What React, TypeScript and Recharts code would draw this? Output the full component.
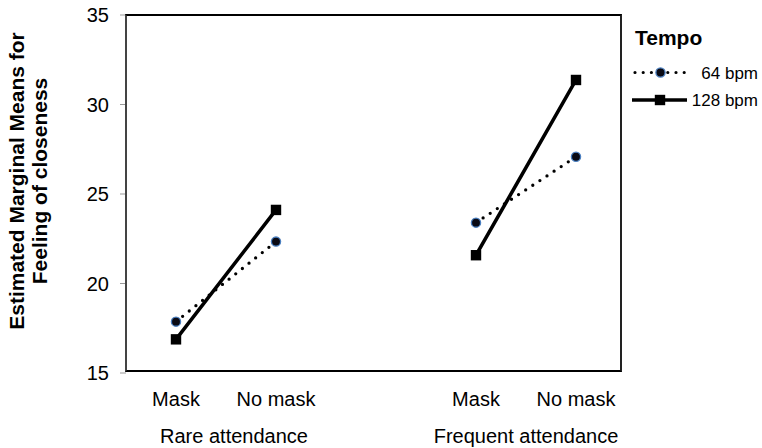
import React from 'react';
import { LineChart, Line, XAxis, YAxis, Label } from 'recharts';

const categories = ['Mask', 'No mask', '', 'Mask', 'No mask'];
const groupLabels = ['Rare attendance', 'Frequent attendance'];
const bpm64 = [17.87, 22.34, null, 23.4, 27.08];
const bpm128 = [16.88, 24.11, null, 21.58, 31.37];
const yTicks = [15, 20, 25, 30, 35];
const seriesNames = ['64 bpm', '128 bpm'];
const legendTitle = 'Tempo';
const yTitleLines = ['Estimated Marginal Means for', 'Feeling of closeness'];

const data = categories.map((c, i) => ({ cat: c, s64: bpm64[i], s128: bpm128[i] }));

const FONT = '"Liberation Sans", Arial, Helvetica, sans-serif';
const W = 762;
const H = 448;
const M = { top: 15, right: 139, bottom: 0, left: 0 };
const Y_AXIS_W = 126;
const X_AXIS_H = 75;

const XTick = (props: any) => {
  const { x, y, payload, index } = props;
  const i = index ?? payload?.index;
  const group = i === 0 ? groupLabels[0] : i === 3 ? groupLabels[1] : null;
  const groupDx = i === 0 ? 58 : 50;
  return (
    <g>
      {payload && payload.value ? (
        <text x={x} y={y + 33} textAnchor="middle" fontSize={20} fontFamily={FONT} fill="#000">
          {payload.value}
        </text>
      ) : null}
      {group ? (
        <text x={x + groupDx} y={y + 70} textAnchor="middle" fontSize={20} fontFamily={FONT} fill="#000">
          {group}
        </text>
      ) : null}
    </g>
  );
};

const CircleDot = (props: any) => {
  const { cx, cy, value } = props;
  if (value == null || cx == null || cy == null) return <g />;
  return <circle cx={cx} cy={cy} r={4.6} fill="#0a0a14" stroke="#4a7fc0" strokeWidth={1.3} />;
};

const SquareDot = (props: any) => {
  const { cx, cy, value } = props;
  if (value == null || cx == null || cy == null) return <g />;
  return <rect x={cx - 5.2} y={cy - 5.2} width={10.4} height={10.4} fill="#000" />;
};

const YTitle = (props: any) => {
  const vb = props.viewBox || { x: 0, y: 15, width: 126, height: 358 };
  const cy = vb.y + vb.height / 2 - 13;
  const x1 = 23.5;
  const x2 = 46.5;
  return (
    <g fontFamily={FONT} fontWeight="bold" fontSize={21} fill="#000">
      <text x={x1} y={cy} transform={`rotate(-90 ${x1} ${cy})`} textAnchor="middle">
        {yTitleLines[0]}
      </text>
      <text x={x2} y={cy} transform={`rotate(-90 ${x2} ${cy})`} textAnchor="middle">
        {yTitleLines[1]}
      </text>
    </g>
  );
};

const LegendBox = () => (
  <svg width={142} height={120} style={{ position: 'absolute', left: 620, top: 0, display: 'block' }}>
    <text x={15} y={45} fontSize={21} fontWeight="bold" fontFamily={FONT} fill="#000">{legendTitle}</text>
    <line x1={15} y1={72.5} x2={68} y2={72.5} stroke="#000" strokeWidth={3.2} strokeDasharray="0 8.2" strokeLinecap="round" />
    <circle cx={40.5} cy={72.5} r={4.6} fill="#0a0a14" stroke="#4a7fc0" strokeWidth={1.3} />
    <text x={138} y={78.5} textAnchor="end" fontSize={17} fontFamily={FONT} fill="#000">{seriesNames[0]}</text>
    <line x1={12} y1={100} x2={67} y2={100} stroke="#000" strokeWidth={3.5} />
    <rect x={34.8} y={94.8} width={10.4} height={10.4} fill="#000" />
    <text x={138} y={106} textAnchor="end" fontSize={17} fontFamily={FONT} fill="#000">{seriesNames[1]}</text>
  </svg>
);

export default function App() {
  const plotLeft = M.left + Y_AXIS_W;
  const plotTop = M.top;
  const plotW = W - M.right - plotLeft;
  const plotH = H - M.bottom - X_AXIS_H - plotTop;
  return (
    <div style={{ position: 'absolute', left: 0, top: 0, width: W, height: H, background: '#fff' }}>
      <LineChart width={W} height={H} data={data} margin={M}>
        <XAxis
          dataKey="cat"
          height={X_AXIS_H}
          padding={{ left: 50, right: 47 }}
          tick={<XTick />}
          tickLine={false}
          tickSize={0}
          tickMargin={0}
          interval={0}
          allowDuplicatedCategory={true}
          axisLine={false}
        />
        <YAxis
          type="number"
          domain={[15, 35]}
          ticks={yTicks}
          width={Y_AXIS_W}
          tickSize={6}
          tickMargin={11}
          tickLine={{ stroke: '#999', strokeWidth: 1 }}
          axisLine={false}
          tick={{ fontSize: 20, fontFamily: FONT, fill: '#000' }}
          interval={0}
        >
          <Label content={<YTitle />} />
        </YAxis>
        <Line
          dataKey="s64"
          name={seriesNames[0]}
          stroke="#000"
          strokeWidth={3.3}
          strokeDasharray="0 8.5"
          strokeLinecap="round"
          dot={<CircleDot />}
          activeDot={false}
          connectNulls={false}
          isAnimationActive={false}
        />
        <Line
          dataKey="s128"
          name={seriesNames[1]}
          stroke="#000"
          strokeWidth={3.5}
          dot={<SquareDot />}
          activeDot={false}
          connectNulls={false}
          isAnimationActive={false}
        />
      </LineChart>
      <div
        style={{
          position: 'absolute',
          left: plotLeft - 1,
          top: plotTop - 1,
          width: plotW,
          height: plotH,
          borderTop: '2.5px solid #000',
          borderBottom: '2.5px solid #000',
          borderRight: '2.5px solid #222',
          borderLeft: '2.5px solid #444',
          boxSizing: 'border-box',
          pointerEvents: 'none',
        }}
      />
      <LegendBox />
    </div>
  );
}
